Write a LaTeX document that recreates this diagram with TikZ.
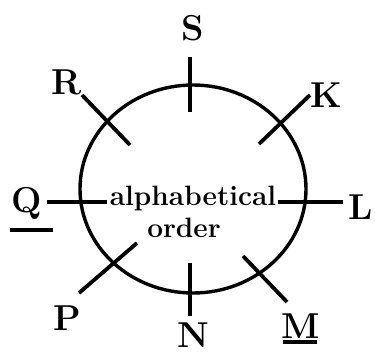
\documentclass[tikz,border=0pt]{standalone}
\usetikzlibrary{positioning,calc}
\tikzset{
  ring/.style={line width=1.7pt, draw=black},
  tick/.style={line width=1.9pt, draw=black},
  letter/.style={font=\fontsize{18}{20}\selectfont\bfseries, inner sep=0pt},
  caption/.style={font=\fontsize{14}{16}\selectfont\bfseries, inner sep=0pt, align=center},
  uline/.style={line width=2pt, draw=black}
}

\begin{document}
\begin{tikzpicture}[x=0.5pt,y=-0.5pt]
    \useasboundingbox (0,0) rectangle (375,354);

    \coordinate (c0) at (193,189);
    \draw[ring] (c0) ellipse (113 and 104);

    % ends of the ticks
    \coordinate (s1) at (190,57);   \coordinate (s2) at (190,112);
    \coordinate (n1) at (190,263);  \coordinate (n2) at (190,316);
    \coordinate (q1) at (47,202);   \coordinate (q2) at (107,202);
    \coordinate (l1) at (278,202);  \coordinate (l2) at (343,202);
    \coordinate (r1) at (82,95);    \coordinate (r2) at (130,145);
    \coordinate (k1) at (310,95);   \coordinate (k2) at (259,144);
    \coordinate (p1) at (137,243);  \coordinate (p2) at (79,293);
    \coordinate (m1) at (243,256);  \coordinate (m2) at (287,302);

    \draw[tick] (s1) -- (s2);
    \draw[tick] (n1) -- (n2);
    \draw[tick] (q1) -- (q2);
    \draw[tick] (l1) -- (l2);
    \draw[tick] (r1) -- (r2);
    \draw[tick] (k1) -- (k2);
    \draw[tick] (p1) -- (p2);
    \draw[tick] (m1) -- (m2);

    \node[letter] (S) at (193,28)  {S};
    \node[letter] (R) at (67,82)   {R};
    \node[letter] (K) at (326,95)  {K};
    \node[letter] (Q) at (27,203)  {Q};
    \node[letter] (L) at (361,207) {L};
    \node[letter] (P) at (67,318)  {P};
    \node[letter] (N) at (193,335) {N};
    \node[letter] (M) at (301,326) {M};

    \coordinate (qa) at (10,230);  \coordinate (qb) at (53,230);
    \coordinate (ma) at (283,342); \coordinate (mb) at (317,342);
    \draw[uline] (qa) -- (qb);
    \draw[uline] (ma) -- (mb);

    \node[caption] (alpha) at (193,198) {alphabetical};
    \node[caption] (order) at (184,228) {order};
\end{tikzpicture}
\end{document}
